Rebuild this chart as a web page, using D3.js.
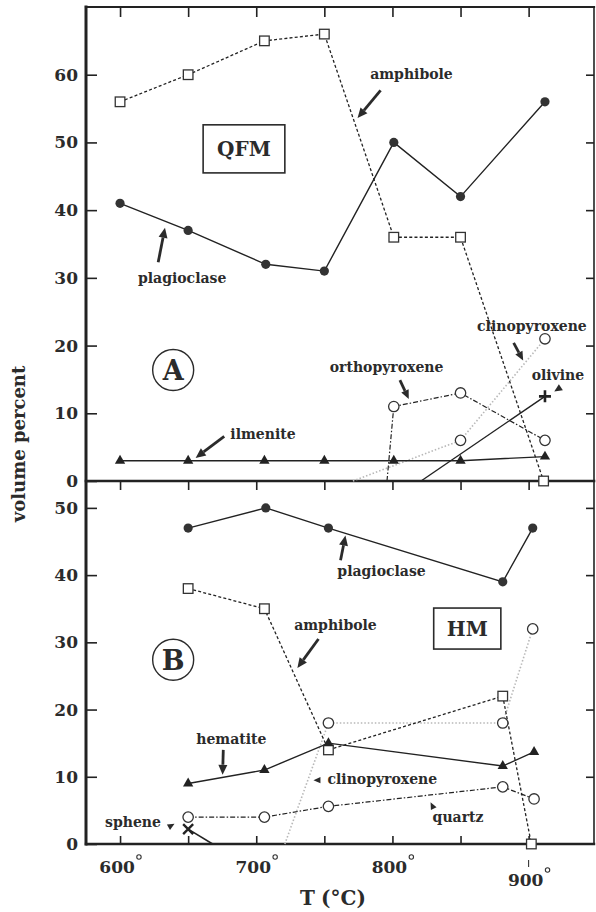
<!DOCTYPE html>
<html>
<head>
<meta charset="utf-8">
<script src="https://cdn.jsdelivr.net/npm/d3@7"></script>
<style>
  body { margin: 0; background: #fff; }
  text { font-family: "DejaVu Serif", serif; font-weight: bold; fill: #2b2b2b; }
</style>
</head>
<body>
<div id="chart"></div>
<script>
// --- data: [T (°C), volume percent] ---
// panel A, QFM buffer
const qfmAmphibole     = [[600,56],[650,60],[706,65],[750,66],[801,36],[850,36],[911,0]];
const qfmPlagioclase   = [[600,41],[650,37],[707,32],[750,31],[801,50],[850,42],[912,56]];
const qfmIlmenite      = [[600,3],[650,3],[706,3],[750,3],[801,3],[850,3],[912,3.6]];
const qfmOrthopyroxene = [[801,11],[850,13],[912,6]];
const qfmClinopyroxene = [[850,6],[912,21]];
const qfmOlivine       = [[912,12.5]];
// temperatures where a phase comes in at 0 %
const qfmOnset = { orthopyroxene: 796, clinopyroxene: 771, olivine: 821 };

// panel B, HM buffer
const hmPlagioclase   = [[650,47],[707,50],[753,47],[881,39],[903,47]];
const hmAmphibole     = [[650,38],[706,35],[753,14],[881,22],[902,0]];
const hmClinopyroxene = [[753,18],[881,18],[903,32]];
const hmHematite      = [[650,9],[706,11],[753,15],[881,11.6],[904,13.7]];
const hmQuartz        = [[650,4],[706,4],[753,5.6],[881,8.5],[904,6.7]];
const hmSphene        = [[650,2.2]];
const hmOnset = { clinopyroxene: 721 };
const hmOut = { sphene: 668 };

const xTicks = [600,650,700,750,800,850,900];
const xLabels = [600,700,800,900];
const qfmTicks = [0,10,20,30,40,50,60];
const hmTicks = [0,10,20,30,40,50];

// --- layout ---
const W = 596, H = 912;
const frame = { left: 86, right: 594, top: 7, mid: 481, bottom: 844 };
const ink = '#222';

const svg = d3.select('#chart').append('svg').attr('width', W).attr('height', H);

const x = d3.scaleLinear().domain([575, 948]).range([frame.left, frame.right]);
const yA = d3.scaleLinear().domain([0, 70]).range([frame.mid, frame.top]);
const yB = d3.scaleLinear().domain([0, 54]).range([frame.bottom, frame.mid]);

function styleAxis(g) {
    g.select('.domain').remove();
    g.selectAll('.tick line').attr('stroke', ink).attr('stroke-width', 1.6);
    g.selectAll('.tick text')
        .attr('font-family', '"DejaVu Serif", serif')
        .attr('font-weight', 'bold')
        .attr('font-size', 17)
        .attr('fill', '#333');
}

// left axes
svg.append('g').attr('transform', `translate(${frame.left},0)`)
    .call(d3.axisLeft(yA).tickValues(qfmTicks).tickSize(-11).tickPadding(8)).call(styleAxis);
svg.append('g').attr('transform', `translate(${frame.left},0)`)
    .call(d3.axisLeft(yB).tickValues(hmTicks).tickSize(-11).tickPadding(8)).call(styleAxis);

// right ticks
svg.append('g').attr('transform', `translate(${frame.right},0)`)
    .call(d3.axisRight(yA).tickValues(qfmTicks.slice(1)).tickSize(-8).tickFormat('')).call(styleAxis);
svg.append('g').attr('transform', `translate(${frame.right},0)`)
    .call(d3.axisRight(yB).tickValues(hmTicks.slice(1)).tickSize(-8).tickFormat('')).call(styleAxis);

// top, middle, bottom ticks
svg.append('g').attr('transform', `translate(0,${frame.top})`)
    .call(d3.axisTop(x).tickValues(xTicks).tickSize(-10).tickFormat('')).call(styleAxis);
svg.append('g').attr('transform', `translate(0,${frame.mid})`)
    .call(d3.axisBottom(x).tickValues(xTicks).tickSize(9).tickFormat('')).call(styleAxis);
svg.append('g').attr('transform', `translate(0,${frame.bottom})`)
    .call(d3.axisBottom(x).tickValues(xTicks).tickSize(-8).tickFormat('')).call(styleAxis);

// frame edges
const edges = [
    [frame.left, frame.top, frame.right, frame.top, 2.2],
    [frame.right, frame.top, frame.right, frame.bottom, 1.6],
    [frame.left, frame.mid, frame.right, frame.mid, 2.6],
    [frame.left, frame.bottom, frame.right, frame.bottom, 2.4],
    [frame.left, frame.top, frame.left, frame.bottom, 3]
];
edges.forEach(e => {
    svg.append('line')
        .attr('x1', e[0]).attr('y1', e[1]).attr('x2', e[2]).attr('y2', e[3])
        .attr('stroke', ink).attr('stroke-width', e[4]).attr('stroke-linecap', 'square');
});

// x labels (900 is set lower with a small leader)
xLabels.forEach(t => {
    const low = t === 900;
    const base = low ? 886 : 873;
    const lbl = svg.append('text')
        .attr('x', x(t) - 3).attr('y', base)
        .attr('text-anchor', 'middle').attr('font-size', 17).attr('fill', '#333')
        .text(t);
    const bb = lbl.node().getBBox();
    svg.append('circle')
        .attr('cx', bb.x + bb.width + 4).attr('cy', base - 16).attr('r', 2.2)
        .attr('fill', 'none').attr('stroke', '#333').attr('stroke-width', 1.1);
    if (low) {
        svg.append('line').attr('x1', x(t)).attr('x2', x(t)).attr('y1', 860).attr('y2', 867)
            .attr('stroke', ink).attr('stroke-width', 1);
    }
});

svg.append('text').attr('x', 300).attr('y', 905).attr('font-size', 20).text('T');
svg.append('text').attr('x', 321).attr('y', 905).attr('font-size', 20).attr('font-weight', 'normal').text('(°C)');

svg.append('text')
    .attr('transform', 'translate(25,444) rotate(-90)')
    .attr('text-anchor', 'middle').attr('font-size', 18)
    .text('volume percent');

// --- series ---
function drawSeries(y, s) {
    const line = d3.line().x(d => x(d[0])).y(d => y(d[1]));
    svg.append('path')
        .attr('d', line(s.path))
        .attr('fill', 'none')
        .attr('stroke', s.color || ink)
        .attr('stroke-width', s.width || 1.3)
        .attr('stroke-dasharray', s.dash || null);
}

function drawMarkers(y, pts, kind) {
    const g = svg.append('g');
    pts.forEach(d => {
        const cx = x(d[0]), cy = y(d[1]);
        if (kind === 'dot') {
            g.append('circle').attr('cx', cx).attr('cy', cy).attr('r', 4.6).attr('fill', '#333');
        } else if (kind === 'ring') {
            g.append('circle').attr('cx', cx).attr('cy', cy).attr('r', 5.2)
                .attr('fill', '#fff').attr('stroke', '#333').attr('stroke-width', 1.3);
        } else if (kind === 'square') {
            g.append('rect').attr('x', cx - 4.8).attr('y', cy - 4.8).attr('width', 9.6).attr('height', 9.6)
                .attr('fill', '#fff').attr('stroke', '#333').attr('stroke-width', 1.3);
        } else if (kind === 'tri') {
            g.append('path').attr('transform', `translate(${cx},${cy})`)
                .attr('d', d3.symbol(d3.symbolTriangle, 46)()).attr('fill', '#222');
        } else if (kind === 'plus') {
            g.append('path').attr('d', `M${cx - 6},${cy}H${cx + 6}M${cx},${cy - 6}V${cy + 6}`)
                .attr('stroke', '#222').attr('stroke-width', 2.6);
        } else if (kind === 'times') {
            g.append('path').attr('d', `M${cx - 5},${cy - 5}L${cx + 5},${cy + 5}M${cx - 5},${cy + 5}L${cx + 5},${cy - 5}`)
                .attr('stroke', '#222').attr('stroke-width', 2.4);
        }
    });
}

const grey = '#b8b8b8';
const panelA = [
    { path: [[qfmOnset.clinopyroxene, 0], ...qfmClinopyroxene], pts: qfmClinopyroxene, marker: 'ring', color: grey, dash: '1.5,2', width: 1.6 },
    { path: qfmAmphibole, pts: qfmAmphibole, marker: 'square', dash: '3,2.2', width: 1.3 },
    { path: [[qfmOnset.orthopyroxene, 0], ...qfmOrthopyroxene], pts: qfmOrthopyroxene, marker: 'ring', dash: '5,2,1.5,2', width: 1.2 },
    { path: [[qfmOnset.olivine, 0], ...qfmOlivine], pts: qfmOlivine, marker: 'plus', width: 1.4 },
    { path: qfmIlmenite, pts: qfmIlmenite, marker: 'tri', width: 1.4 },
    { path: qfmPlagioclase, pts: qfmPlagioclase, marker: 'dot', width: 1.4 }
];
const panelB = [
    { path: [[hmOnset.clinopyroxene, 0], ...hmClinopyroxene], pts: hmClinopyroxene, marker: 'ring', color: grey, dash: '1.5,2', width: 1.6 },
    { path: hmAmphibole, pts: hmAmphibole, marker: 'square', dash: '3,2.2', width: 1.3 },
    { path: hmQuartz, pts: hmQuartz, marker: 'ring', dash: '5,2,1.5,2', width: 1.2 },
    { path: [...hmSphene, [hmOut.sphene, 0]], pts: hmSphene, marker: 'times', width: 1.5 },
    { path: hmHematite, pts: hmHematite, marker: 'tri', width: 1.4 },
    { path: hmPlagioclase, pts: hmPlagioclase, marker: 'dot', width: 1.4 }
];

panelA.forEach(s => drawSeries(yA, s));
panelB.forEach(s => drawSeries(yB, s));
panelA.forEach(s => drawMarkers(yA, s.pts, s.marker));
panelB.forEach(s => drawMarkers(yB, s.pts, s.marker));

// --- annotations (positions in data units) ---
function label(y, t, T, v, anchor) {
    svg.append('text').attr('x', x(T)).attr('y', y(v))
        .attr('text-anchor', anchor || 'middle').attr('font-size', 14).text(t);
}

function arrow(y, from, to, head, shaft) {
    const x1 = x(from[0]), y1 = y(from[1]), x2 = x(to[0]), y2 = y(to[1]);
    const a = Math.atan2(y2 - y1, x2 - x1);
    const L = head || 9, hw = L * 0.45;
    const bx = x2 - L * Math.cos(a), by = y2 - L * Math.sin(a);
    if (shaft !== false) {
        svg.append('line').attr('x1', x1).attr('y1', y1).attr('x2', bx).attr('y2', by)
            .attr('stroke', '#2b2b2b').attr('stroke-width', 2.8);
    }
    svg.append('path')
        .attr('d', `M${x2},${y2}L${bx + hw * Math.sin(a)},${by - hw * Math.cos(a)}L${bx - hw * Math.sin(a)},${by + hw * Math.cos(a)}Z`)
        .attr('fill', '#2b2b2b');
}

function boxLabel(y, t, T0, T1, v0, v1) {
    svg.append('rect')
        .attr('x', x(T0)).attr('y', y(v0))
        .attr('width', x(T1) - x(T0)).attr('height', y(v1) - y(v0))
        .attr('fill', '#fff').attr('stroke', '#2b2b2b').attr('stroke-width', 1.6);
    svg.append('text')
        .attr('x', (x(T0) + x(T1)) / 2).attr('y', (y(v0) + y(v1)) / 2)
        .attr('dy', '0.36em').attr('text-anchor', 'middle').attr('font-size', 20).text(t);
}

function circleLabel(y, t, T, v) {
    svg.append('circle').attr('cx', x(T)).attr('cy', y(v)).attr('r', 20.5)
        .attr('fill', 'none').attr('stroke', '#2b2b2b').attr('stroke-width', 1.4);
    svg.append('text').attr('x', x(T)).attr('y', y(v)).attr('dy', '0.36em')
        .attr('text-anchor', 'middle').attr('font-size', 27).attr('font-weight', 'normal').text(t);
}

// panel A
label(yA, 'amphibole', 814, 59.3);
arrow(yA, [791.3, 57.7], [774.4, 53.6], 10);
boxLabel(yA, 'QFM', 661, 721, 52.6, 45.5);
label(yA, 'plagioclase', 645.6, 29.2);
arrow(yA, [628, 32.3], [633, 37.4], 10);
circleLabel(yA, 'A', 639, 16.4);
label(yA, 'ilmenite', 681, 6.2, 'start');
arrow(yA, [676.5, 6.6], [655.5, 3.4], 10);
label(yA, 'orthopyroxene', 795.7, 16.1);
arrow(yA, [805.5, 14.9], [812, 12.1], 9);
label(yA, 'clinopyroxene', 902.4, 22.2);
arrow(yA, [889, 20.4], [896, 17.8], 9);
label(yA, 'olivine', 921.5, 14.9);
arrow(yA, [925.5, 14.1], [918.8, 13.2], 8, false);

// panel B
label(yB, 'plagioclase', 792, 39.9);
arrow(yB, [761.9, 42.2], [765.5, 45.9], 10);
label(yB, 'amphibole', 758.2, 31.8);
arrow(yB, [745.7, 30.5], [730.2, 26.2], 10);
boxLabel(yB, 'HM', 830.3, 879.6, 35.1, 29.0);
circleLabel(yB, 'B', 639, 27.4);
label(yB, 'hematite', 681.7, 14.9);
arrow(yB, [675.8, 14.0], [675.3, 10.3], 10);
label(yB, 'clinopyroxene', 752.3, 8.9, 'start');
arrow(yB, [748, 9.5], [742, 9.5], 7, false);
label(yB, 'quartz', 829.5, 3.3, 'start');
arrow(yB, [832, 4.6], [828, 6.2], 7, false);
label(yB, 'sphene', 589, 2.6, 'start');
arrow(yB, [634, 2.3], [640, 3.0], 7, false);
</script>
</body>
</html>
